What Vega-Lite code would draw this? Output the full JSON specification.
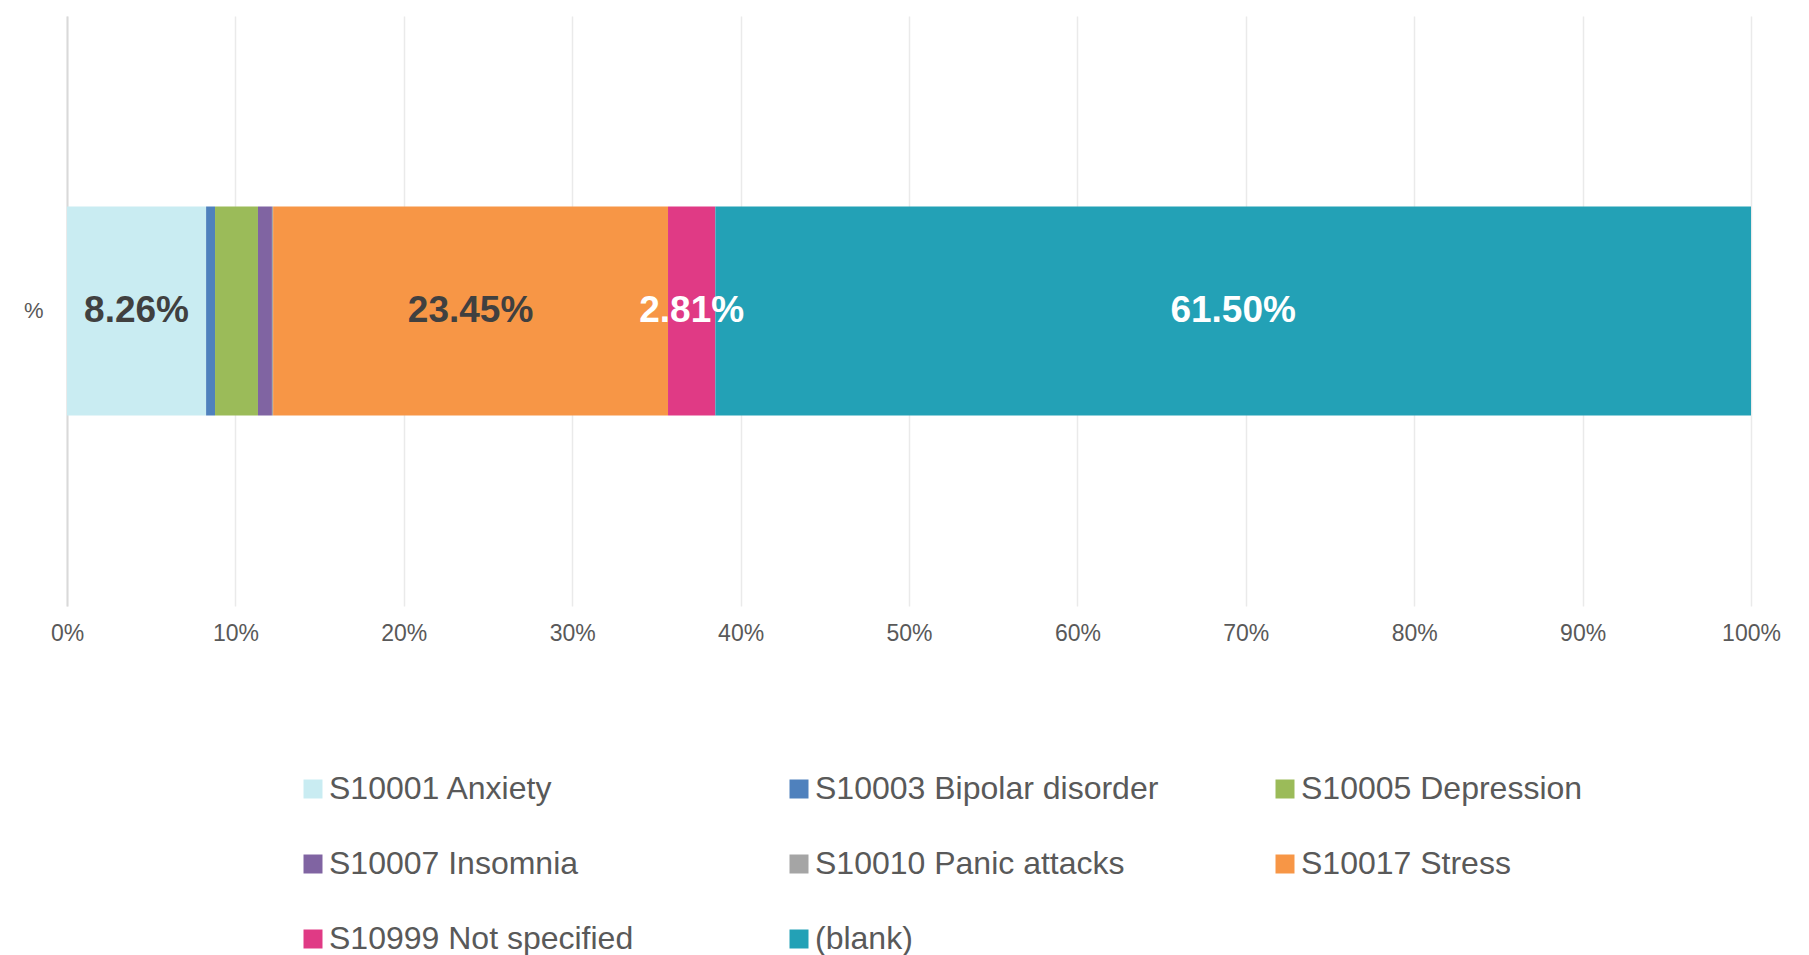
{
  "$schema": "https://vega.github.io/schema/vega-lite/v6.json",
  "width": 1684,
  "height": 590,
  "autosize": {"type": "none"},
  "padding": {"left": 67, "top": 16, "right": 58, "bottom": 349},
  "background": "white",
  "config": {"view": {"stroke": null}, "font": "Liberation Sans"},
  "data": {"values": [
    {"series": "%", "category": "S10001 Anxiety", "idx": 1, "value": 0.0826},
    {"series": "%", "category": "S10003 Bipolar disorder", "idx": 2, "value": 0.0053},
    {"series": "%", "category": "S10005 Depression", "idx": 3, "value": 0.0255},
    {"series": "%", "category": "S10007 Insomnia", "idx": 4, "value": 0.0083},
    {"series": "%", "category": "S10010 Panic attacks", "idx": 5, "value": 0.0007},
    {"series": "%", "category": "S10017 Stress", "idx": 6, "value": 0.2345},
    {"series": "%", "category": "S10999 Not specified", "idx": 7, "value": 0.0281},
    {"series": "%", "category": "(blank)", "idx": 8, "value": 0.6150}
  ]},
  "encoding": {
    "y": {
      "field": "series", "type": "nominal",
      "scale": {"paddingInner": 0, "paddingOuter": 0.911},
      "axis": {"title": null, "ticks": false, "domainColor": "#D9D9D9", "domainWidth": 2, "labelFontSize": 22, "labelColor": "#595959", "labelPadding": 24, "grid": false}
    },
    "order": {"field": "idx", "type": "quantitative", "sort": "ascending"}
  },
  "layer": [
    {
      "mark": {"type": "bar"},
      "encoding": {
        "x": {
          "field": "value", "type": "quantitative", "stack": "zero",
          "scale": {"domain": [0, 1], "nice": false},
          "axis": {"title": null, "values": [0, 0.1, 0.2, 0.3, 0.4, 0.5, 0.6, 0.7, 0.8, 0.9, 1], "format": ".0%", "labelFontSize": 23, "labelColor": "#595959", "ticks": false, "domain": false, "grid": true, "gridColor": "#EAEAEA", "gridWidth": 1.5, "labelPadding": 16, "labelFlush": false}
        },
        "color": {
          "field": "category", "type": "nominal",
          "scale": {
            "domain": ["S10001 Anxiety", "S10003 Bipolar disorder", "S10005 Depression", "S10007 Insomnia", "S10010 Panic attacks", "S10017 Stress", "S10999 Not specified", "(blank)"],
            "range": ["#C9ECF2", "#4F81BD", "#9BBB59", "#8064A2", "#A5A5A5", "#F79646", "#E03A85", "#23A1B6"]
          },
          "legend": {
            "title": null, "orient": "none", "legendX": 230, "legendY": 757,
            "columns": 3, "direction": "horizontal", "gridAlign": "all",
            "columnPadding": 110, "rowPadding": 43, "padding": 0,
            "symbolType": "square", "symbolSize": 361, "symbolStrokeWidth": 0,
            "labelFontSize": 32, "labelColor": "#595959", "labelOffset": 0, "labelLimit": 1000
          }
        }
      }
    },
    {
      "mark": {"type": "text", "fontSize": 37, "fontWeight": "bold", "baseline": "middle", "align": "center"},
      "encoding": {
        "x": {"field": "value", "type": "quantitative", "stack": "zero", "bandPosition": 0.5},
        "text": {"field": "value", "type": "quantitative", "format": ".2%"},
        "color": {"condition": {"test": "datum.idx == 1 || datum.idx == 6", "value": "#404040"}, "value": "white"},
        "opacity": {"condition": {"test": "datum.idx == 1 || datum.idx == 6 || datum.idx == 7 || datum.idx == 8", "value": 1}, "value": 0}
      }
    }
  ]
}
